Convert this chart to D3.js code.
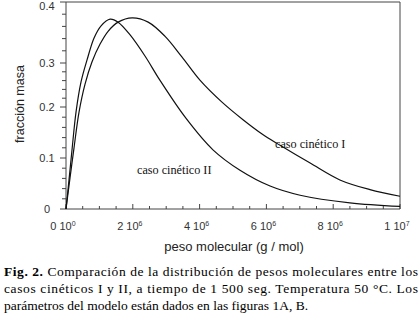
<!DOCTYPE html>
<html lang="es">
<head>
<meta charset="UTF-8">
<title>Fig. 2</title>
<script src="https://d3js.org/d3.v7.min.js"></script>
<style>
  body { margin: 0; background: #fff; }
  svg { display: block; }
</style>
</head>
<body>
<div id="chart"></div>
<script>
// peso molecular in units of 1e6 g/mol
const pesoI = [0, 0.12, 0.24, 0.39, 0.57, 0.78, 1.02, 1.26, 1.56, 1.98, 2.46, 2.96, 3.47, 4.01, 4.67, 5.30, 5.87, 6.41, 7.31, 8.20, 9.10, 10];
const fraccionI = [0, 0.061, 0.120, 0.190, 0.252, 0.302, 0.331, 0.352, 0.367, 0.374, 0.367, 0.344, 0.310, 0.261, 0.211, 0.175, 0.147, 0.125, 0.090, 0.057, 0.038, 0.025];

const pesoII = [0, 0.09, 0.18, 0.30, 0.45, 0.63, 0.84, 1.05, 1.32, 1.56, 1.92, 2.37, 2.81, 3.59, 4.40, 5.21, 6.11, 7.01, 8.50, 10];
const fraccionII = [0, 0.057, 0.116, 0.190, 0.257, 0.305, 0.341, 0.361, 0.372, 0.367, 0.346, 0.311, 0.261, 0.178, 0.116, 0.076, 0.045, 0.027, 0.012, 0.005];

const xTicks = [0, 2, 4, 6, 8, 10];
const xTickLabels = [["0 10", "0"], ["2 10", "6"], ["4 10", "6"], ["6 10", "6"], ["8 10", "6"], ["1 10", "7"]];
const yTicks = [0, 0.1, 0.2, 0.3, 0.4];
const yTickLabels = ["0", "0.1", "0.2", "0.3", "0.4"];

const captionLines = [
    "Comparación de la distribución de pesos moleculares entre los",
    "casos cinéticos I y II, a tiempo de 1 500 seg. Temperatura 50 °C. Los",
    "parámetros del modelo están dados en las figuras 1A, B."
];

const width = 420, height = 317;
const svg = d3.select("#chart").append("svg")
    .attr("width", width).attr("height", height);

const x = d3.scaleLinear().domain([0, 10]).range([66, 400]);
// the scanned axis is not evenly spaced, so follow its labelled ticks
const y = d3.scaleLinear().domain(yTicks).range([209, 158, 107, 63, 2]);

const axisColor = "#444";

// frame
svg.append("path")
    .attr("d", `M${x(0)},${y(0)}V${y(0.4)}H${x(10)}V${y(0)}`)
    .attr("fill", "none").attr("stroke", axisColor).attr("stroke-width", 1);
svg.append("line")
    .attr("x1", x(0)).attr("x2", x(10)).attr("y1", y(0)).attr("y2", y(0))
    .attr("stroke", axisColor);

// y ticks (outside, to the left)
const yMinor = d3.range(0, 0.4001, 0.02);
svg.append("g").selectAll("line").data(yMinor).enter().append("line")
    .attr("x1", d => x(0) - (Math.abs(d * 10 - Math.round(d * 10)) < 1e-6 ? 6 : 4))
    .attr("x2", x(0))
    .attr("y1", d => y(d)).attr("y2", d => y(d))
    .attr("stroke", axisColor);

svg.append("g").selectAll("text").data(yTicks).enter().append("text")
    .attr("x", x(0) - 19)
    .attr("y", d => Math.max(y(d) + 4, 10))
    .attr("text-anchor", "middle")
    .attr("font-family", "Liberation Sans, Arial, sans-serif")
    .attr("font-size", 11)
    .attr("fill", "#333")
    .text((d, i) => yTickLabels[i]);

// x ticks (inside, pointing up)
const xMinor = d3.range(0, 10.001, 0.5);
svg.append("g").selectAll("line").data(xMinor).enter().append("line")
    .attr("x1", d => x(d)).attr("x2", d => x(d))
    .attr("y1", y(0))
    .attr("y2", d => y(0) - (d % 2 === 0 ? 5 : 3))
    .attr("stroke", axisColor);

const xl = svg.append("g").selectAll("text").data(xTicks).enter().append("text")
    .attr("x", d => x(d) - 3)
    .attr("y", 230)
    .attr("text-anchor", "middle")
    .attr("font-family", "Liberation Sans, Arial, sans-serif")
    .attr("font-size", 11)
    .attr("fill", "#333");
xl.append("tspan").text((d, i) => xTickLabels[i][0]);
xl.append("tspan").attr("dy", -4).attr("font-size", 7).text((d, i) => xTickLabels[i][1]);

// axis titles
svg.append("text")
    .attr("x", 234).attr("y", 251)
    .attr("text-anchor", "middle")
    .attr("font-family", "Liberation Sans, Arial, sans-serif")
    .attr("font-size", 13)
    .attr("fill", "#222")
    .text("peso molecular (g / mol)");

svg.append("text")
    .attr("transform", "translate(24,104) rotate(-90)")
    .attr("text-anchor", "middle")
    .attr("font-family", "Liberation Sans, Arial, sans-serif")
    .attr("font-size", 12.5)
    .attr("fill", "#222")
    .text("fracción masa");

// curves
const line = d3.line()
    .x(d => x(d[0]))
    .y(d => y(d[1]))
    .curve(d3.curveCatmullRom.alpha(0.5));

svg.append("path")
    .datum(d3.zip(pesoI, fraccionI))
    .attr("fill", "none").attr("stroke", "#111").attr("stroke-width", 1.2)
    .attr("d", line);

svg.append("path")
    .datum(d3.zip(pesoII, fraccionII))
    .attr("fill", "none").attr("stroke", "#111").attr("stroke-width", 1.2)
    .attr("d", line);

// curve labels
svg.append("text")
    .attr("x", 275).attr("y", 148)
    .attr("font-family", "Liberation Serif, Times New Roman, serif")
    .attr("font-size", 12.2)
    .attr("fill", "#111")
    .text("caso cinético I");

svg.append("text")
    .attr("x", 137).attr("y", 174)
    .attr("font-family", "Liberation Serif, Times New Roman, serif")
    .attr("font-size", 12.2)
    .attr("fill", "#111")
    .text("caso cinético II");

// caption
const cap = svg.append("g")
    .attr("font-family", "Liberation Serif, Times New Roman, serif")
    .attr("font-size", 13.5)
    .attr("fill", "#000");

const first = cap.append("text").attr("x", 4).attr("y", 276)
    .attr("textLength", 414).attr("lengthAdjust", "spacing");
first.append("tspan").attr("font-weight", "bold").text("Fig. 2.");
first.append("tspan").text(" " + captionLines[0]);

cap.append("text").attr("x", 4).attr("y", 293)
    .attr("textLength", 414).attr("lengthAdjust", "spacing")
    .text(captionLines[1]);

cap.append("text").attr("x", 4).attr("y", 310)
    .text(captionLines[2]);
</script>
</body>
</html>
